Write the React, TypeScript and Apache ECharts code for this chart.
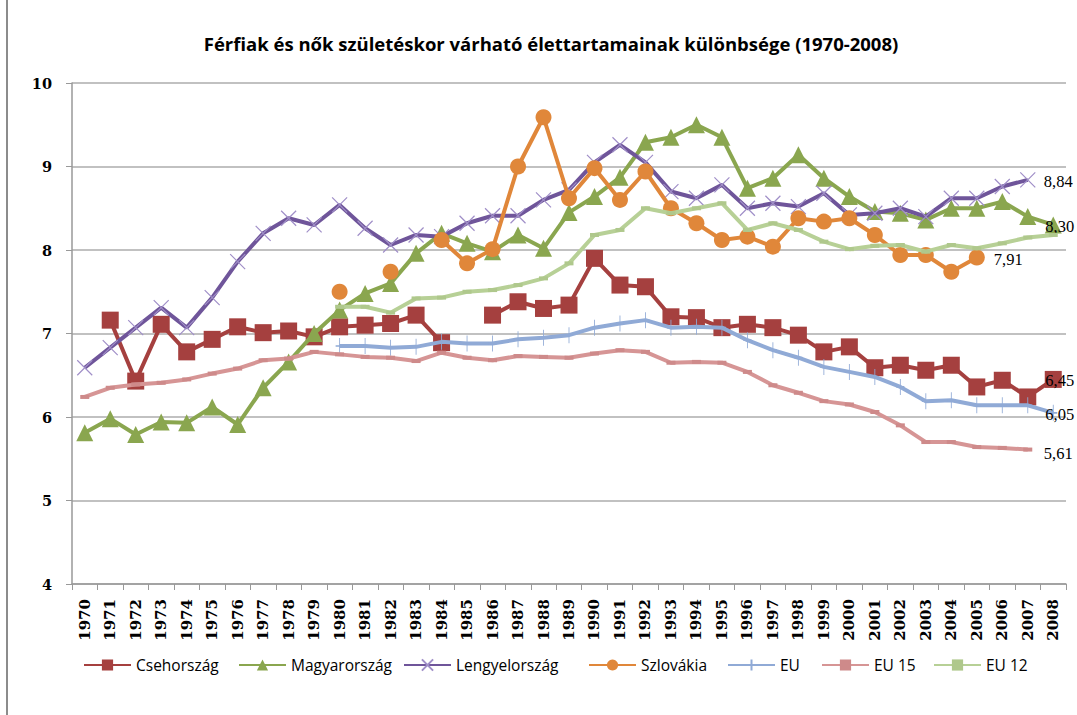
import React, { useEffect, useRef } from "react";
import * as echarts from "echarts";

const years = ["1970","1971","1972","1973","1974","1975","1976","1977","1978","1979","1980","1981","1982","1983","1984","1985","1986","1987","1988","1989","1990","1991","1992","1993","1994","1995","1996","1997","1998","1999","2000","2001","2002","2003","2004","2005","2006","2007","2008"];

const cseh = [null, 7.16, 6.43, 7.11, 6.78, 6.93, 7.08, 7.01, 7.03, 6.96, 7.08, 7.10, 7.12, 7.22, 6.89, null, 7.22, 7.38, 7.30, 7.34, 7.90, 7.58, 7.56, 7.20, 7.19, 7.07, 7.11, 7.07, 6.98, 6.78, 6.84, 6.59, 6.62, 6.56, 6.62, 6.36, 6.44, 6.24, 6.45];
const magyar = [5.81, 5.98, 5.79, 5.94, 5.93, 6.12, 5.91, 6.35, 6.66, 7.00, 7.28, 7.48, 7.60, 7.96, 8.20, 8.08, 7.98, 8.18, 8.02, 8.45, 8.64, 8.87, 9.29, 9.35, 9.50, 9.35, 8.74, 8.86, 9.14, 8.86, 8.64, 8.46, 8.44, 8.36, 8.50, 8.50, 8.58, 8.40, 8.30];
const lengyel = [6.59, 6.83, 7.07, 7.31, 7.07, 7.43, 7.86, 8.20, 8.38, 8.30, 8.54, 8.26, 8.06, 8.18, 8.16, 8.32, 8.41, 8.41, 8.60, 8.72, 9.05, 9.26, 9.05, 8.70, 8.62, 8.78, 8.50, 8.56, 8.52, 8.68, 8.42, 8.44, 8.50, 8.40, 8.62, 8.62, 8.76, 8.84, null];
const szlovakia = [null, null, null, null, null, null, null, null, null, null, 7.50, null, 7.74, null, 8.12, 7.84, 8.01, 9.00, 9.59, 8.62, 8.98, 8.60, 8.94, 8.50, 8.32, 8.12, 8.16, 8.04, 8.38, 8.34, 8.38, 8.18, 7.94, 7.94, 7.74, 7.91, null, null, null];
const eu = [null, null, null, null, null, null, null, null, null, null, 6.85, 6.85, 6.83, 6.84, 6.90, 6.88, 6.88, 6.93, 6.95, 6.98, 7.07, 7.12, 7.16, 7.07, 7.08, 7.07, 6.92, 6.80, 6.71, 6.60, 6.54, 6.48, 6.36, 6.19, 6.20, 6.14, 6.14, 6.14, 6.05];
const eu15 = [6.24, 6.35, 6.39, 6.41, 6.45, 6.52, 6.58, 6.68, 6.70, 6.78, 6.75, 6.72, 6.71, 6.67, 6.77, 6.71, 6.68, 6.73, 6.72, 6.71, 6.76, 6.80, 6.78, 6.65, 6.66, 6.65, 6.54, 6.38, 6.29, 6.19, 6.15, 6.06, 5.90, 5.70, 5.70, 5.64, 5.63, 5.61, null];
const eu12 = [null, null, null, null, null, null, null, null, null, null, 7.32, 7.32, 7.25, 7.42, 7.43, 7.50, 7.52, 7.58, 7.66, 7.84, 8.18, 8.24, 8.50, 8.44, 8.50, 8.56, 8.24, 8.32, 8.24, 8.10, 8.01, 8.05, 8.06, 7.98, 8.06, 8.02, 8.08, 8.15, 8.18];

const names = ["Csehország", "Magyarország", "Lengyelország", "Szlovákia", "EU", "EU 15", "EU 12"];
const endLabels = ["6,45", "8,30", "8,84", "7,91", "6,05", "5,61", null];
const legendLeft = [78, 233, 398, 583, 722, 816, 928];

function withEndLabel(values: (number | null)[], text: string | null, dx: number, dy: number) {
  let last = -1;
  values.forEach((v, i) => { if (v !== null) last = i; });
  return values.map((v, i) => {
    if (i === last && text) {
      return {
        value: v,
        label: {
          show: true,
          formatter: text,
          position: "inside",
          align: "left",
          verticalAlign: "middle",
          offset: [dx, dy],
          color: "#000",
          fontFamily: "Liberation Serif",
          fontSize: 16.5,
        },
      };
    }
    return v;
  });
}

export default function App() {
  const ref = useRef<HTMLDivElement>(null);
  useEffect(() => {
    if (!ref.current) return;
    const chart = echarts.init(ref.current, null, { renderer: "svg" });
    const mk = (name: string, data: any[], color: string, symbol: string, symbolSize: any, itemStyle: any, z: number) => ({
      name,
      type: "line",
      data,
      connectNulls: false,
      symbol,
      symbolSize,
      showAllSymbol: true,
      lineStyle: { color, width: 4 },
      itemStyle,
      z,
      emphasis: { disabled: true },
    });
    const xPath = "path://M0,0L10,10M10,0L0,10";
    const plusPath = "path://M5,0L5,10M0,5L10,5";
    const option: any = {
      animation: false,
      backgroundColor: "#fff",
      title: {
        text: "Férfiak és nők születéskor várható élettartamainak különbsége (1970-2008)",
        left: 546,
        textAlign: "center",
        top: 29,
        textStyle: { fontFamily: "Open Sans", fontWeight: "bold", fontSize: 18.5, color: "#000" },
      },
      legend: names.map((n, i) => ({
        data: [n],
        left: legendLeft[i],
        top: 652,
        itemWidth: 47,
        itemHeight: 14,
        itemGap: 0,
        textStyle: { fontFamily: "Open Sans", fontSize: 15.5, color: "#000" },
        selectedMode: false,
      })),
      grid: { left: 72, right: 11, top: 83, bottom: 131, containLabel: false },
      xAxis: {
        type: "category",
        data: years,
        boundaryGap: true,
        axisLine: { lineStyle: { color: "#999", width: 1.5 } },
        axisTick: { show: true, length: 6, lineStyle: { color: "#999" } },
        axisLabel: {
          rotate: 90,
          interval: 0,
          margin: 15,
          fontFamily: "DejaVu Serif",
          fontWeight: "bold",
          fontSize: 15,
          color: "#000",
        },
      },
      yAxis: {
        type: "value",
        min: 4,
        max: 10,
        interval: 1,
        axisLine: { show: true, lineStyle: { color: "#999", width: 1.5 } },
        axisTick: { show: true, length: 6, lineStyle: { color: "#999" } },
        splitLine: { lineStyle: { color: "#adadad", width: 1.5 } },
        axisLabel: {
          margin: 20,
          fontFamily: "DejaVu Serif",
          fontWeight: "bold",
          fontSize: 14.5,
          color: "#000",
        },
      },
      graphic: [
        { type: "rect", left: 6, top: 0, shape: { width: 2, height: 715 }, style: { fill: "#8c8c8c" }, z: 100 },
      ],
      series: [
        mk(names[0], withEndLabel(cseh, endLabels[0], -8, 1), "#A5403F", "rect", 17, { color: "#A5403F" }, 2),
        mk(names[1], withEndLabel(magyar, endLabels[1], -8, 2), "#8AA64F", "triangle", 17, { color: "#8AA64F" }, 3),
        mk(names[2], withEndLabel(lengyel, endLabels[2], 16, 2), "#6F559A", xPath, 15, { color: "rgba(0,0,0,0)", borderColor: "#A08FC8", borderWidth: 1.2 }, 4),
        mk(names[3], withEndLabel(szlovakia, endLabels[3], 17, 2), "#E0873A", "circle", 16, { color: "#E0873A" }, 5),
        mk(names[4], withEndLabel(eu, endLabels[4], -8, 2), "#90AAD6", plusPath, [8, 16], { color: "rgba(0,0,0,0)", borderColor: "#90AAD6", borderWidth: 1.2 }, 6),
        mk(names[5], withEndLabel(eu15, endLabels[5], 16, 4), "#D69595", "rect", [9, 4], { color: "#CE8A8A" }, 7),
        mk(names[6], withEndLabel(eu12, endLabels[6], 0, 0), "#B7D096", "rect", [9, 4], { color: "#AFC88C" }, 8),
      ],
    };
    chart.setOption(option);
    return () => chart.dispose();
  }, []);
  return <div ref={ref} style={{ position: "fixed", left: 0, top: 0, width: 1077, height: 715 }} />;
}
